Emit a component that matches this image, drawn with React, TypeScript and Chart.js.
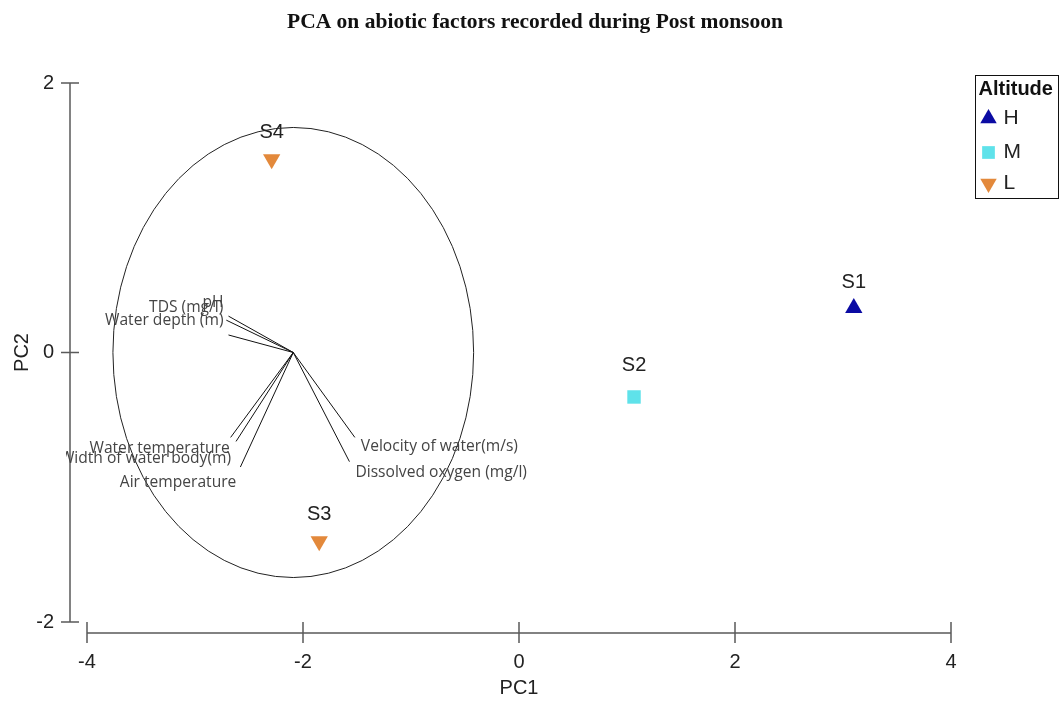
import { useEffect, useRef } from 'react';
import { Chart, registerables } from 'chart.js';

Chart.register(...registerables);

// ---- data ----
const chartTitle = 'PCA on abiotic factors recorded during Post monsoon';
const siteNames = ['S1', 'S2', 'S3', 'S4'];
const siteAltitude = ['H', 'M', 'L', 'L'];
const pc1Scores = [3.1, 1.065, -1.85, -2.29];
const pc2Scores = [0.33, -0.33, -1.4, 1.435];

const altitudeGroups = ['H', 'M', 'L'];
const groupColors = ['#0b0ba3', '#5fe2ea', '#e3893b'];
const groupStyles = ['triangle', 'rect', 'triangle'];
const groupRotation = [0, 0, 180];
const groupRadius = [10, 9.5, 10];

const loadingNames = [
  'pH',
  'TDS (mg/l)',
  'Water depth (m)',
  'Water temperature',
  'Width of water body(m)',
  'Air temperature',
  'Velocity of water(m/s)',
  'Dissolved oxygen (mg/l)',
];
const loadingPC1 = [-2.69, -2.71, -2.69, -2.67, -2.62, -2.58, -1.52, -1.57];
const loadingPC2 = [0.27, 0.24, 0.13, -0.63, -0.66, -0.85, -0.63, -0.81];
const biplotOrigin = [-2.09, 0];
const circleRadius = 1.67;

const xTicks = [-4, -2, 0, 2, 4];
const yTicks = [-2, 0, 2];

// ---- label styling (pixel offsets) ----
const loadingLabelDx = [-5, -3, -5, -1, -5, -4, 6, 6];
const loadingLabelDy = [-14, -13, -14, 11, 17, 16, 9, 11];
const loadingLabelAlign = ['right', 'right', 'right', 'right', 'right', 'right', 'left', 'left'];
const siteLabelDy = [-26, -31, -27, -27];

function drawMarker(ctx: CanvasRenderingContext2D, style: string, rot: number, r: number, x: number, y: number) {
  ctx.beginPath();
  if (style === 'rect') {
    const s = Math.SQRT1_2 * r;
    ctx.rect(x - s, y - s, 2 * s, 2 * s);
  } else {
    let a = (rot * Math.PI) / 180;
    ctx.moveTo(x + Math.sin(a) * r, y - Math.cos(a) * r);
    a += (2 * Math.PI) / 3;
    ctx.lineTo(x + Math.sin(a) * r, y - Math.cos(a) * r);
    a += (2 * Math.PI) / 3;
    ctx.lineTo(x + Math.sin(a) * r, y - Math.cos(a) * r);
    ctx.closePath();
  }
  ctx.fill();
}

const biplotPlugin = {
  id: 'biplot',
  beforeDatasetsDraw(chart: any) {
    const { ctx, chartArea, scales } = chart;
    const xs = scales.x;
    const ys = scales.y;
    ctx.save();
    // detached axes
    ctx.strokeStyle = '#5a5a5a';
    ctx.lineWidth = 1.5;
    const axX = chartArea.left - 17;
    const axY = chartArea.bottom + 11;
    ctx.beginPath();
    ctx.moveTo(axX, ys.getPixelForValue(yTicks[yTicks.length - 1]));
    ctx.lineTo(axX, ys.getPixelForValue(yTicks[0]));
    yTicks.forEach((v) => {
      const py = ys.getPixelForValue(v);
      ctx.moveTo(axX - 9, py);
      ctx.lineTo(axX + 9, py);
    });
    ctx.moveTo(xs.getPixelForValue(xTicks[0]), axY);
    ctx.lineTo(xs.getPixelForValue(xTicks[xTicks.length - 1]), axY);
    xTicks.forEach((v) => {
      const px = xs.getPixelForValue(v);
      ctx.moveTo(px, axY - 11);
      ctx.lineTo(px, axY + 10);
    });
    ctx.stroke();

    // correlation circle
    const cx = xs.getPixelForValue(biplotOrigin[0]);
    const cy = ys.getPixelForValue(biplotOrigin[1]);
    const rx = xs.getPixelForValue(biplotOrigin[0] + circleRadius) - cx;
    const ry = cy - ys.getPixelForValue(biplotOrigin[1] + circleRadius);
    ctx.strokeStyle = '#222';
    ctx.lineWidth = 1;
    ctx.beginPath();
    ctx.ellipse(cx, cy, rx, ry, 0, 0, Math.PI * 2);
    ctx.stroke();
    ctx.restore();
  },
  afterDatasetsDraw(chart: any) {
    const { ctx, chartArea, scales } = chart;
    const xs = scales.x;
    const ys = scales.y;
    ctx.save();
    // loading labels (clipped at the y axis)
    ctx.beginPath();
    ctx.rect(chartArea.left - 21, 0, chart.width, chart.height);
    ctx.clip();
    ctx.font = '15.6px "Open Sans"';
    ctx.fillStyle = '#444';
    ctx.textBaseline = 'middle';
    loadingNames.forEach((name, i) => {
      const px = xs.getPixelForValue(loadingPC1[i]);
      const py = ys.getPixelForValue(loadingPC2[i]);
      ctx.textAlign = loadingLabelAlign[i] as CanvasTextAlign;
      ctx.fillText(name, px + loadingLabelDx[i], py + loadingLabelDy[i]);
    });
    ctx.restore();

    ctx.save();
    ctx.font = '20px "Liberation Sans", Arial, sans-serif';
    ctx.fillStyle = '#222';
    ctx.textAlign = 'center';
    ctx.textBaseline = 'middle';
    siteNames.forEach((name, i) => {
      const px = xs.getPixelForValue(pc1Scores[i]);
      const py = ys.getPixelForValue(pc2Scores[i]);
      ctx.fillText(name, px, py + siteLabelDy[i]);
    });
    ctx.restore();
  },
  afterDraw(chart: any) {
    const { ctx, chartArea } = chart;
    ctx.save();
    // chart title
    ctx.fillStyle = '#111';
    ctx.font = 'bold 21.5px "Liberation Serif", serif';
    ctx.textAlign = 'center';
    ctx.textBaseline = 'middle';
    ctx.fillText(chartTitle, (chartArea.left + chartArea.right) / 2 + 16, 22);

    // legend
    const lx = chartArea.right + 24.5;
    const ly = chartArea.top - 7.5;
    ctx.strokeStyle = '#111';
    ctx.lineWidth = 1;
    ctx.strokeRect(lx, ly, 83, 123);
    ctx.fillStyle = '#111';
    ctx.font = 'bold 20px "Liberation Sans", Arial, sans-serif';
    ctx.textAlign = 'left';
    ctx.fillText('Altitude', lx + 3, ly + 14);
    const rowY = [43, 77, 108];
    altitudeGroups.forEach((g, i) => {
      ctx.fillStyle = groupColors[i];
      drawMarker(ctx, groupStyles[i], groupRotation[i], groupRadius[i] - 0.5, lx + 13, ly + rowY[i]);
      ctx.fillStyle = '#222';
      ctx.font = '21px "Liberation Sans", Arial, sans-serif';
      ctx.fillText(g, lx + 28, ly + rowY[i]);
    });
    ctx.restore();
  },
};

export default function App() {
  const ref = useRef<HTMLCanvasElement | null>(null);
  useEffect(() => {
    document.body.style.margin = '0';
    if (!ref.current) return;
    const pointSets = altitudeGroups.map((g, gi) => ({
      label: g,
      data: siteNames
        .map((_, i) => i)
        .filter((i) => siteAltitude[i] === g)
        .map((i) => ({ x: pc1Scores[i], y: pc2Scores[i] })),
      pointStyle: groupStyles[gi],
      rotation: groupRotation[gi],
      pointRadius: groupRadius[gi],
      pointHoverRadius: groupRadius[gi],
      backgroundColor: groupColors[gi],
      borderColor: groupColors[gi],
      borderWidth: 0,
      showLine: false,
    }));
    const vectorSets = loadingNames.map((name, i) => ({
      label: name,
      data: [
        { x: biplotOrigin[0], y: biplotOrigin[1] },
        { x: loadingPC1[i], y: loadingPC2[i] },
      ],
      showLine: true,
      borderColor: '#111',
      borderWidth: 1,
      pointRadius: 0,
      pointHoverRadius: 0,
      fill: false,
    }));
    const tickFont = { family: '"Liberation Sans", Arial, sans-serif', size: 20 };
    const chart = new Chart(ref.current, {
      type: 'scatter',
      data: { datasets: [...pointSets, ...vectorSets] as any },
      options: {
        animation: false,
        responsive: false,
        layout: { padding: { left: 0, right: 112, top: 83, bottom: 0 } },
        plugins: {
          legend: { display: false },
          tooltip: { enabled: false },
          title: { display: false },
        },
        scales: {
          x: {
            type: 'linear',
            min: -4,
            max: 4,
            afterBuildTicks: (s: any) => {
              s.ticks = xTicks.map((v) => ({ value: v }));
            },
            afterFit: (s: any) => {
              s.height = 82;
            },
            grid: { display: false, drawTicks: false },
            border: { display: false },
            ticks: { font: tickFont, color: '#222', padding: 28, maxRotation: 0 },
            title: {
              display: true,
              text: 'PC1',
              font: tickFont,
              color: '#222',
              padding: { top: 0, bottom: 4 },
            },
          },
          y: {
            type: 'linear',
            min: -2,
            max: 2,
            afterBuildTicks: (s: any) => {
              s.ticks = yTicks.map((v) => ({ value: v }));
            },
            afterFit: (s: any) => {
              s.width = 87;
            },
            grid: { display: false, drawTicks: false },
            border: { display: false },
            ticks: { font: tickFont, color: '#222', padding: 33 },
            title: {
              display: true,
              text: 'PC2',
              font: tickFont,
              color: '#222',
              padding: { top: 10, bottom: 0 },
            },
          },
        },
      } as any,
      plugins: [biplotPlugin],
    });
    return () => chart.destroy();
  }, []);
  return (
    <div style={{ width: 1063, height: 704, background: '#fff' }}>
      <canvas ref={ref} width={1063} height={704} />
    </div>
  );
}
